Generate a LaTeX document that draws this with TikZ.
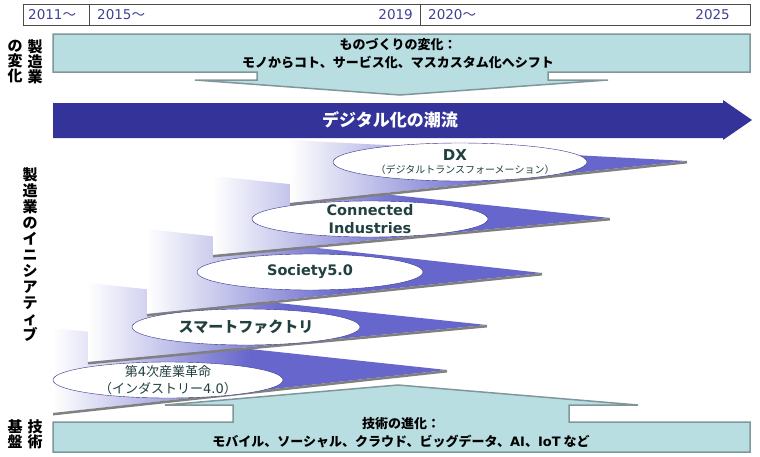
\documentclass[tikz,border=0pt]{standalone}
\usepackage{fontspec}
\setmainfont{DejaVu Sans}
\newfontfamily\jp{Noto Sans CJK JP}
\usetikzlibrary{shapes.geometric,positioning}

\definecolor{calfill}{RGB}{185,222,226}
\definecolor{calline}{RGB}{128,150,155}
\definecolor{flowblue}{RGB}{51,51,153}
\definecolor{tierblue}{RGB}{102,102,204}
\definecolor{ellline}{RGB}{50,50,140}
\definecolor{lbltext}{RGB}{33,64,64}
\definecolor{yeartext}{RGB}{64,64,150}

\begin{document}
\begin{tikzpicture}[x=1pt,y=-1pt]
\tikzstyle{callout}=[fill=calfill,draw=calline,line width=1.5pt,line join=miter]
\tikzstyle{tier}=[left color=white,right color=tierblue,middle color=tierblue]
\tikzstyle{tiershadow}=[draw=gray,line width=2.5pt,yshift=-1.2pt]
\tikzstyle{tierell}=[ellipse,draw=ellline,fill=white,thin,inner sep=0pt]
\tikzstyle{tierlbl}=[text=lbltext,font=\bfseries\fontsize{14.5}{18}\selectfont,align=center,inner sep=0pt]
\tikzstyle{vlbl}=[font=\jp\bfseries\fontsize{15}{15}\selectfont,align=center,inner sep=0pt]
\tikzstyle{callbl}=[font=\jp\bfseries\fontsize{13}{18}\selectfont,align=center,inner sep=0pt]
\tikzstyle{year}=[text=yeartext,font=\fontsize{13.5}{14}\selectfont,inner sep=0pt]

\useasboundingbox (0,0) rectangle (760,456);

% timeline
\draw[gray!60!black,thick] (23,4) rectangle (750,25);
\draw[gray!60!black,thick] (89,4) -- (89,25) (420,4) -- (420,25);
\node[year,anchor=west] (y2011) at (28,15) {2011{\jp ～}};
\node[year,anchor=west] (y2015) at (97,15) {2015{\jp ～}};
\node[year,anchor=east] (y2019) at (413,15) {2019};
\node[year,anchor=west] (y2020) at (428,15) {2020{\jp ～}};
\node[year,anchor=east] (y2025) at (730,15) {2025};

% top callout
\draw[callout] (53,34) -- (750,34) -- (750,72) -- (548,72) -- (548,80) -- (608,80)
  -- (400,95) -- (195,80) -- (257,80) -- (257,72) -- (53,72) -- cycle;
\node[callbl] (mono) at (398,54) {ものづくりの変化：\\モノからコト、サービス化、マスカスタム化へシフト};

% digital flow arrow
\fill[flowblue] (53,103) -- (723,103) -- (723,100) -- (752,120) -- (723,140) -- (723,138) -- (53,138) -- cycle;
\node[text=white,font=\jp\bfseries\fontsize{17}{17}\selectfont] (flow) at (390,120) {デジタル化の潮流};

% tiers, bottom first
\shade[tier] (53,328) -- (447,370) -- (53,413) -- cycle;
\draw[tiershadow] (53,413) -- (447,370);
\shade[tier] (88,283) -- (487,325) -- (88,362) -- cycle;
\draw[tiershadow] (88,362) -- (487,325);
\shade[tier] (147,229) -- (542,273) -- (147,314) -- cycle;
\draw[tiershadow] (147,314) -- (542,273);
\shade[tier] (213,176) -- (610,218) -- (213,255) -- cycle;
\draw[tiershadow] (213,255) -- (610,218);
\shade[tier] (290,140) -- (687,161) -- (290,203) -- cycle;
\draw[tiershadow] (290,203) -- (687,161);

\node[tierell,minimum width=230pt,minimum height=36pt] (ind) at (168,380) {};
\node[tierell,minimum width=228pt,minimum height=36pt] (smart) at (246,327) {};
\node[tierell,minimum width=226pt,minimum height=36pt] (soc) at (310,272) {};
\node[tierell,minimum width=236pt,minimum height=36pt] (conn) at (370,219) {};
\node[tierell,minimum width=254pt,minimum height=38pt] (dx) at (460,162) {};

\node[tierlbl,font=\fontsize{13}{17}\selectfont] (indlbl) at (ind) {{\jp 第}4{\jp 次産業革命}\\{\jp （インダストリー}4.0{\jp ）}};
\node[tierlbl,font=\jp\bfseries\fontsize{15}{18}\selectfont] (smartlbl) at (smart) {スマートファクトリ};
\node[tierlbl] (soclbl) at (soc) {Society5.0};
\node[tierlbl] (connlbl) at (conn) {Connected\\Industries};
\node[tierlbl,font=\bfseries\fontsize{15}{18}\selectfont] (dxlbl) at (455,155) {DX};
\node[tierlbl,font=\jp\fontsize{10}{12}\selectfont] (dxsub) at (465,170) {（デジタルトランスフォーメーション）};

% bottom callout
\draw[callout] (53,452) -- (750,452) -- (750,422) -- (569,422) -- (569,405) -- (638,405)
  -- (398,385) -- (165,405) -- (233,405) -- (233,422) -- (53,422) -- cycle;
\node[callbl] (tech) at (401,433) {技術の進化：\\{\jp モバイル、ソーシャル、クラウド、ビッグデータ、}{\rmfamily AI}、{\rmfamily IoT} など};

% side labels
\node[vlbl] (mfg) at (35,62) {製\\造\\業};
\node[vlbl] (chg) at (15,62) {の\\変\\化};
\node[vlbl,font=\jp\bfseries\fontsize{15}{16}\selectfont] (init) at (30,255) {製\\造\\業\\の\\イ\\ニ\\シ\\ア\\テ\\ィ\\ブ};
\node[vlbl] (gij) at (35,434) {技\\術};
\node[vlbl] (kib) at (15,434) {基\\盤};
\end{tikzpicture}
\end{document}
